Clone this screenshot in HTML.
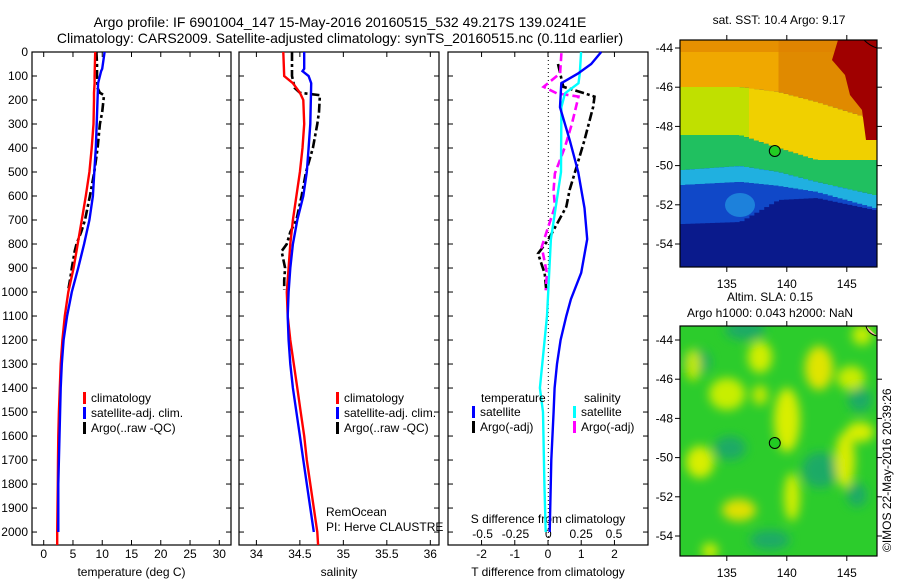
<!DOCTYPE html>
<html><head><meta charset="utf-8">
<style>
html,body{margin:0;padding:0;background:#fff;}
body{width:900px;height:580px;overflow:hidden;font-family:"Liberation Sans",sans-serif;}
svg text{font-family:"Liberation Sans",sans-serif;fill:#000;}
</style></head>
<body>
<svg id="chart" width="900" height="580" xmlns="http://www.w3.org/2000/svg">
<text x="340" y="27" font-size="14" text-anchor="middle">Argo profile: IF 6901004_147 15-May-2016 20160515_532 49.217S 139.0241E</text>
<text x="340" y="43" font-size="14" text-anchor="middle">Climatology: CARS2009. Satellite-adjusted climatology: synTS_20160515.nc (0.11d earlier)</text>
<g id="panels"></g>
<g id="maps"></g>
<text x="779" y="24" font-size="12" text-anchor="middle">sat. SST: 10.4 Argo: 9.17</text>
<text x="770" y="301" font-size="12" text-anchor="middle">Altim. SLA: 0.15</text>
<text x="770" y="317" font-size="12" text-anchor="middle">Argo h1000: 0.043 h2000: NaN</text>
<text x="0" y="0" font-size="12" transform="translate(891,552) rotate(-90)">©IMOS 22-May-2016 20:39:26</text>
<text x="326" y="516" font-size="12">RemOcean</text>
<text x="326" y="531" font-size="12">PI: Herve CLAUSTRE</text>
</svg>
<script>
// ---------- data ----------
const climDepth = [0,100,130,170,200,300,400,500,600,700,800,900,1000,1100,1200,1300,1400,1500,1600,1700,1800,1900,2000,2054];
const climT = [8.8,8.7,8.7,8.6,8.6,8.5,8.2,7.8,7.2,6.5,5.8,5.1,4.2,3.6,3.2,2.9,2.75,2.6,2.5,2.45,2.4,2.35,2.3,2.3];
const climS = [34.31,34.32,34.42,34.5,34.54,34.55,34.53,34.5,34.46,34.42,34.39,34.37,34.35,34.36,34.39,34.43,34.47,34.51,34.55,34.58,34.62,34.66,34.70,34.71];
const satDepth = [0,70,80,100,130,300,400,500,600,700,800,900,1000,1100,1200,1300,1400,1500,1600,1700,1800,1900,2000];
const satT = [10.4,10.0,9.8,9.6,9.3,9.05,8.9,8.65,8.4,7.8,6.9,5.9,4.8,4.0,3.4,3.1,2.9,2.8,2.7,2.6,2.5,2.5,2.5];
const satS = [34.55,34.55,34.53,34.6,34.63,34.62,34.6,34.58,34.54,34.47,34.42,34.39,34.37,34.36,34.37,34.39,34.42,34.46,34.50,34.54,34.58,34.62,34.66];
const argoDepth = [0,50,100,150,170,180,250,300,400,500,600,700,750,800,830,900,950,990];
const argoT = [9.0,9.1,9.1,9.2,9.6,10.3,10.0,9.6,9.2,8.65,7.9,7.05,6.4,5.6,5.3,4.8,4.5,4.2];
const argoS = [34.41,34.41,34.41,34.44,34.5,34.73,34.72,34.7,34.65,34.57,34.52,34.46,34.39,34.35,34.29,34.33,34.32,34.32];
const dTsatDepth = [0,50,90,130,230,370,500,650,780,920,1030,1100,1200,1300,1400,1500,1700,2000];
const dTsat = [1.6,1.3,0.9,0.4,0.36,0.66,0.91,1.1,1.18,1.0,0.69,0.55,0.38,0.27,0.2,0.17,0.1,0.05];
const dSsatDepth = [0,90,130,172,230,500,780,1100,1400,1500,1800,2000];
const dSsat = [0.25,0.24,0.23,0.127,0.1,0.097,0.02,-0.01,-0.064,-0.04,-0.03,-0.02];
const dTargoDepth = [50,145,172,186,228,367,506,575,645,784,840,923,993];
const dTargo = [0.3,0.46,1.1,1.4,1.36,1.1,0.8,0.65,0.55,0.0,-0.3,-0.1,-0.05];
const dSargoDepth = [5,89,145,172,186,298,395,506,575,645,728,812,923,993];
const dSargo = [0.1,0.09,-0.036,0.064,0.23,0.18,0.127,0.05,0.04,0.05,0.0,-0.05,-0.01,-0.02];
const depthTicks = [0,100,200,300,400,500,600,700,800,900,1000,1100,1200,1300,1400,1500,1600,1700,1800,1900,2000];
const tTicks = [0,5,10,15,20,25,30];
const sTicks = [34,34.5,35,35.5,36];
const sTickLabels = ["34","34.5","35","35.5","36"];
const dTTicks = [-2,-1,0,1,2];
const dSTicks = [-0.5,-0.25,0,0.25,0.5];
const dSTickLabels = ["-0.5","-0.25","0","0.25","0.5"];

const NS="http://www.w3.org/2000/svg";
function mk(tag,attrs,parent){const e=document.createElementNS(NS,tag);for(const k in attrs)e.setAttribute(k,attrs[k]);parent.appendChild(e);return e;}
const pTop=52, bot=545, pMin=0, pMax=2054;
function yScale(p){return pTop+(p-pMin)/(pMax-pMin)*(bot-pTop);}
const panelsG=document.getElementById('panels');
function makePanel(name,x0,x1,vmin,vmax){
  const g=mk('g',{},panelsG);
  
  
  const xs=v=>x0+(v-vmin)/(vmax-vmin)*(x1-x0);
  const r=mk('rect',{x:x0,y:pTop,width:x1-x0,height:bot-pTop,fill:'#fff',stroke:'#000','stroke-width':1.2},g);
  
  
  for(const p of depthTicks){const y=yScale(p);
    mk('line',{x1:x0,x2:x0+5,y1:y,y2:y,stroke:'#000'},g);
    mk('line',{x1:x1,x2:x1-5,y1:y,y2:y,stroke:'#000'},g);}
  return {g,xs};
}
function drawLine(panel,xs,vals,depths,color,w,dash,name){
  const pts=vals.map((v,i)=>xs(v).toFixed(1)+','+yScale(depths[i]).toFixed(1)).join(' ');
  const pl=mk('polyline',{points:pts,fill:'none',stroke:color,'stroke-width':w},panel.g);
  if(dash)pl.setAttribute('stroke-dasharray',dash);
  
  
}
function xTicks(panel,ticks,labels,y,name){
  ticks.forEach((t,i)=>{const x=panel.xs(t);
    mk('line',{x1:x,x2:x,y1:pTop,y2:pTop+5,stroke:'#000'},panel.g);
    mk('line',{x1:x,x2:x,y1:bot,y2:bot-5,stroke:'#000'},panel.g);
    const tx=mk('text',{x:x,y:y,'font-size':12,'text-anchor':'middle'},panel.g);
    tx.textContent=labels?labels[i]:String(t);
    
    
  });
}
function legend(panel,x,y,items){
  items.forEach((it,i)=>{
    const yy=y+i*15;
    mk('rect',{x:x,y:yy-10,width:3,height:12,fill:it[0]},panel.g);
    const t=mk('text',{x:x+8,y:yy,'font-size':12},panel.g);
    t.textContent=it[1];
    
    
  });
}
function label(panel,x,y,txt,name,anchor){
  const t=mk('text',{x:x,y:y,'font-size':12,'text-anchor':anchor||'middle'},panel.g);
  t.textContent=txt;
  
  
}
const DASH='9,3,3,3';
// Panel 1 temperature
const p1=makePanel('temperature-panel',32,231,-2,32);
depthTicks.forEach(p=>{const t=mk('text',{x:28,y:yScale(p)+4,'font-size':12,'text-anchor':'end'},p1.g);t.textContent=p;
  
  });
xTicks(p1,tTicks,null,558,'temperature');
label(p1,131.5,576,'temperature (deg C)','x-axis-title-temperature');
drawLine(p1,p1.xs,argoT,argoDepth,'#000',2.6,DASH,'argo-temperature');
drawLine(p1,p1.xs,climT,climDepth,'#ff0000',2.4,null,'climatology-temperature');
drawLine(p1,p1.xs,satT,satDepth,'#0000ff',2.4,null,'satellite-temperature');
legend(p1,83,402,[['#ff0000','climatology'],['#0000ff','satellite-adj. clim.'],['#000','Argo(..raw -QC)']]);
// Panel 2 salinity
const p2=makePanel('salinity-panel',239,439,33.8,36.1);
xTicks(p2,sTicks,sTickLabels,558,'salinity');
label(p2,339,576,'salinity','x-axis-title-salinity');
drawLine(p2,p2.xs,argoS,argoDepth,'#000',2.6,DASH,'argo-salinity');
drawLine(p2,p2.xs,climS,climDepth,'#ff0000',2.4,null,'climatology-salinity');
drawLine(p2,p2.xs,satS,satDepth,'#0000ff',2.4,null,'satellite-salinity');
legend(p2,336,402,[['#ff0000','climatology'],['#0000ff','satellite-adj. clim.'],['#000','Argo(..raw -QC)']]);
// Panel 3 differences
const p3=makePanel('difference-panel',448,648,-3.01,3.01);
const xsS=v=>548.3+v*131.4;
mk('line',{x1:548.3,x2:548.3,y1:pTop,y2:bot,stroke:'#000','stroke-dasharray':'1,3'},p3.g);
xTicks(p3,dTTicks,null,558,'t-difference');
dSTicks.forEach((t,i)=>{const tx=mk('text',{x:xsS(t),y:538,'font-size':12,'text-anchor':'middle'},p3.g);tx.textContent=dSTickLabels[i];
  
  });
label(p3,548,523,'S difference from climatology','s-difference-axis-title');
label(p3,548,576,'T difference from climatology','x-axis-title-t-difference');
drawLine(p3,p3.xs,dTargo,dTargoDepth,'#000',2.6,DASH,'argo-t-difference');
drawLine(p3,xsS,dSargo,dSargoDepth,'#ff00ff',2.6,'8,4','argo-s-difference');
drawLine(p3,xsS,dSsat,dSsatDepth,'#00ffff',2.4,null,'satellite-s-difference');
drawLine(p3,p3.xs,dTsat,dTsatDepth,'#0000ff',2.4,null,'satellite-t-difference');
label(p3,481,402,'temperature','legend-temperature-header','start');
label(p3,584,402,'salinity','legend-salinity-header','start');
legend(p3,472,416,[['#0000ff','satellite'],['#000','Argo(-adj)']]);
legend(p3,573,416,[['#00ffff','satellite'],['#ff00ff','Argo(-adj)']]);

// ---------- maps ----------
const mapsG=document.getElementById('maps');
const mx0=680,mx1=877;
const lonTicks=[135,140,145];
const latTicks=[-44,-46,-48,-50,-52,-54];
function lonX(l){return mx0+(l-131.1)*12;}
function drawMapFrame(name,y0,y1,lat44y){
  const g=mk('g',{},mapsG);
  
  
  mk('rect',{x:mx0,y:y0,width:mx1-mx0,height:y1-y0,fill:'none',stroke:'#000','stroke-width':1.2},g);
  lonTicks.forEach(l=>{const x=lonX(l);
    mk('line',{x1:x,x2:x,y1:y0,y2:y0-5,stroke:'#000'},g);
    mk('line',{x1:x,x2:x,y1:y1,y2:y1+5,stroke:'#000'},g);
    const t=mk('text',{x:x,y:y1+21,'font-size':12,'text-anchor':'middle'},g);t.textContent=l;
    
    });
  latTicks.forEach(la=>{const y=lat44y+(-44-la)*19.6;
    mk('line',{x1:mx0,x2:mx0-5,y1:y,y2:y,stroke:'#000'},g);
    mk('line',{x1:mx1,x2:mx1+5,y1:y,y2:y,stroke:'#000'},g);
    const t=mk('text',{x:mx0-7,y:y+4,'font-size':12,'text-anchor':'end'},g);t.textContent=la;
    
    });
  return g;
}
// SST map image: band boundaries at control columns
const sstG=mk('g',{},mapsG);


const t0=40,t1=267;
mk('rect',{x:mx0,y:t0,width:mx1-mx0,height:t1-t0,fill:'#0a1a8c'},sstG);
const ctrlF=[0,0.3,0.5,0.7,1];
const bOrange=[47,47,52,62,80];
const bYellow=[95,95,108,120,120];
const bGreen=[130,126,132,142,155];
const bCyan=[145,142,146,152,168];
const bBlue=[184,182,160,158,170];
function interp(arr,f){for(let i=0;i<ctrlF.length-1;i++){if(f<=ctrlF[i+1]){const t=(f-ctrlF[i])/(ctrlF[i+1]-ctrlF[i]);return arr[i]+(arr[i+1]-arr[i])*t;}}return arr[arr.length-1];}
const ncol=40, cw=(mx1-mx0)/ncol;
for(let c=0;c<ncol;c++){
  const f=c/(ncol-1);
  const x=mx0+c*cw;
  const yo=t0+interp(bOrange,f), yy=t0+interp(bYellow,f), yg=t0+interp(bGreen,f), yc=t0+interp(bCyan,f), yb=t0+interp(bBlue,f);
  mk('rect',{x:x,y:t0,width:cw+0.5,height:yo-t0,fill:f<0.5?'#f0a800':'#e08a00'},sstG);
  mk('rect',{x:x,y:yo,width:cw+0.5,height:Math.max(0,yy-yo),fill:f<0.35?'#c0e000':'#f0d000'},sstG);
  mk('rect',{x:x,y:yy,width:cw+0.5,height:Math.max(0,yg-yy),fill:'#20c060'},sstG);
  mk('rect',{x:x,y:yg,width:cw+0.5,height:Math.max(0,yc-yg),fill:'#20b0e0'},sstG);
  mk('rect',{x:x,y:yc,width:cw+0.5,height:Math.max(0,yb-yc),fill:'#1048c8'},sstG);
}
mk('rect',{x:mx0,y:t0,width:mx1-mx0,height:12,fill:'#e08000',opacity:0.6},sstG);
mk('path',{d:'M838,40 L877,40 L877,140 L866,140 L862,110 L850,95 L845,75 L832,60 Z',fill:'#a00000'},sstG);
mk('ellipse',{cx:740,cy:205,rx:15,ry:12,fill:'#2090e0',opacity:0.8},sstG);
const sstFrame=drawMapFrame('sst-map',t0,t1,48);
const m1=mk('circle',{cx:774.8,cy:151,r:5.5,fill:'#22cc22',stroke:'#000','stroke-width':1},sstFrame);



// SLA map
const b0=326,b1=556;
const slaG=mk('g',{},mapsG);


const defs=mk('defs',{},slaG);
const flt=mk('filter',{id:'blur',x:'-50%',y:'-50%',width:'200%',height:'200%'},defs);
mk('feGaussianBlur',{stdDeviation:5},flt);
const cp=mk('clipPath',{id:'slaclip'},defs);
mk('rect',{x:mx0,y:b0,width:mx1-mx0,height:b1-b0},cp);
mk('rect',{x:mx0,y:b0,width:mx1-mx0,height:b1-b0,fill:'#2ccc2c'},slaG);
const bl=mk('g',{'clip-path':'url(#slaclip)'},slaG);
const bg=mk('g',{filter:'url(#blur)'},bl);
const teal=[[697,362,14,12],[730,448,16,12],[857,495,10,12],[770,540,20,10],[820,470,18,18],[860,400,12,12],[745,330,20,10]];
teal.forEach(b=>mk('ellipse',{cx:b[0],cy:b[1],rx:b[2],ry:b[3],fill:'#1aaa66'},bg));
const yel=[[819,368,14,22,'#e0e400'],[787,420,13,32,'#d8ee00'],[700,462,14,16,'#d8ee00'],[739,510,17,11,'#e0e000'],[792,497,8,24,'#d0ee00'],[845,460,10,28,'#d8ec00'],[860,432,14,10,'#d8ee00'],[727,394,18,16,'#c8ee00'],[760,357,12,16,'#d0ee00'],[693,365,8,16,'#c0e800'],[851,378,14,12,'#c8ec00'],[710,551,8,8,'#d0ee00'],[760,395,8,10,'#c0e800'],[862,335,10,10,'#c8ee00']];
yel.forEach(b=>mk('ellipse',{cx:b[0],cy:b[1],rx:b[2],ry:b[3],fill:b[4]},bg));
const slaFrame=drawMapFrame('sla-map',b0,b1,340);
const m2=mk('circle',{cx:774.8,cy:443,r:5.5,fill:'#22cc22',stroke:'#000','stroke-width':1},slaFrame);


mk('path',{d:'M864,40 Q870,46 877,48',fill:'none',stroke:'#000'},sstFrame);
mk('path',{d:'M866,326 Q868,334 877,336',fill:'#f8c0a0',stroke:'#000'},slaFrame);
</script>
</body></html>
